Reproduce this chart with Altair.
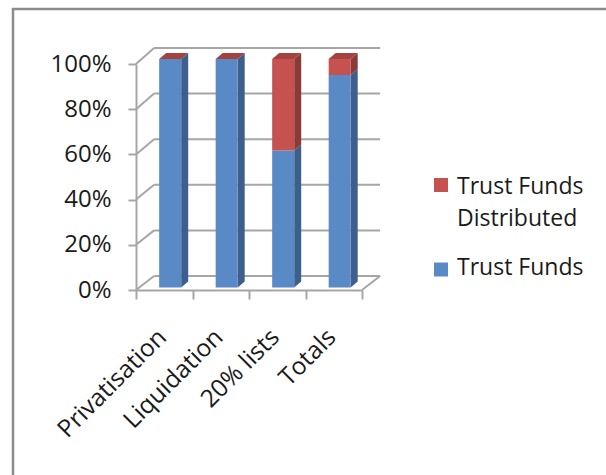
import altair as alt
import pandas as pd

# ---- data ----
categories = ["Privatisation", "Liquidation", "20% lists", "Totals"]
series_names = ["Trust Funds", "Trust Funds Distributed"]
trust_funds = [100, 100, 60, 93]
distributed = [0, 0, 40, 7]
y_ticks = [0, 0.2, 0.4, 0.6, 0.8, 1.0]
x_ticks = [0, 1, 2, 3, 4]

# ---- 3D look (data units) ----
BAR_L, BAR_R = 0.41, 0.80      # bar front face within each category
BAR_DX, BAR_DY = 0.124, 0.0265  # bar depth
BAR_BASE, BAR_SCALE = 0.011, 1.011
WALL_DX, WALL_DY, WALL_SCALE = 0.32, 0.062, 1.009

front_cols = ["#5A8AC6", "#C5524F"]
side_cols = ["#3E5F8B", "#8C3A38"]
top_cols = ["#7AA0D2", "#A4423F"]
grid_col = "#A6A6A6"
text_col = "#1A1A1A"
FONT = "Open Sans"

front_rows, side_rows, top_rows = [], [], []
for i, cat in enumerate(categories):
    vals = [trust_funds[i], distributed[i]]
    tot = sum(vals)
    cum = 0.0
    x0, x1 = i + BAR_L, i + BAR_R
    for s, v in enumerate(vals):
        share = v / tot
        y0 = BAR_BASE + cum * BAR_SCALE
        y1 = BAR_BASE + (cum + share) * BAR_SCALE
        cum += share
        seg = f"{i}-{s}"
        front_rows.append(dict(cat=cat, series=series_names[s], x0=x0, x1=x1, y0=y0, y1=y1))
        side_rows.append(dict(seg=seg, series=series_names[s], x=x1, lo=y0, hi=y1))
        side_rows.append(dict(seg=seg, series=series_names[s], x=x1 + BAR_DX, lo=y0 + BAR_DY, hi=y1 + BAR_DY))
        if s == len(vals) - 1:
            top = y1
            for xx, lo, hi in [(x0, top, top), (x0 + BAR_DX, top, top + BAR_DY),
                               (x1, top, top + BAR_DY), (x1 + BAR_DX, top + BAR_DY, top + BAR_DY)]:
                top_rows.append(dict(seg=seg, series=series_names[s], x=xx, lo=lo, hi=hi))

front_df = pd.DataFrame(front_rows)
side_df = pd.DataFrame(side_rows)
top_df = pd.DataFrame(top_rows)

grid_df = pd.DataFrame({"t": y_ticks})
grid_df["xa"] = 0.0
grid_df["xb"] = WALL_DX
grid_df["xc"] = x_ticks[-1] + WALL_DX
grid_df["tb"] = grid_df["t"] * WALL_SCALE + WALL_DY

floor_df = pd.DataFrame({"xa": [x_ticks[-1]], "ya": [0.0], "xb": [x_ticks[-1] + WALL_DX], "yb": [WALL_DY]})
cat_df = pd.DataFrame({"cat": categories, "xc": [i + 0.5 for i in range(len(categories))], "y": 0.0})

xscale = alt.Scale(domain=[0, 4], nice=False, zero=False)
yscale = alt.Scale(domain=[0, 1], nice=False, zero=False)

y_axis = alt.Axis(values=y_ticks, format=".0%", grid=False, title=None,
                  labelFont=FONT, labelFontSize=24, labelColor=text_col, labelPadding=17,
                  tickSize=8, tickWidth=2, tickColor=grid_col,
                  domainColor=grid_col, domainWidth=2)
x_axis = alt.Axis(values=x_ticks, labels=False, grid=False, title=None,
                  tickSize=9, tickWidth=2, tickColor=grid_col,
                  domainColor=grid_col, domainWidth=2)


def X(f):
    return alt.X(f, scale=xscale, axis=x_axis)


def Y(f):
    return alt.Y(f, scale=yscale, axis=y_axis)


# back wall gridlines
back = alt.Chart(grid_df).mark_rule(color=grid_col, strokeWidth=2).encode(
    x=X("xb:Q"), x2="xc:Q", y=Y("tb:Q"),
)
# left wall diagonals
diag = alt.Chart(grid_df).mark_rule(color=grid_col, strokeWidth=2).encode(
    x=X("xa:Q"), x2="xb:Q", y=Y("t:Q"), y2="tb:Q",
)
# floor right edge
floor = alt.Chart(floor_df).mark_rule(color=grid_col, strokeWidth=2).encode(
    x=X("xa:Q"), x2="xb:Q", y=Y("ya:Q"), y2="yb:Q",
)

side = alt.Chart(side_df).mark_area(interpolate="linear", opacity=1).encode(
    x=X("x:Q"), y=Y("lo:Q"), y2="hi:Q",
    detail="seg:N",
    color=alt.Color("series:N", scale=alt.Scale(domain=series_names, range=side_cols), legend=None),
)
topf = alt.Chart(top_df).mark_area(interpolate="linear", opacity=1).encode(
    x=X("x:Q"), y=Y("lo:Q"), y2="hi:Q",
    detail="seg:N",
    color=alt.Color("series:N", scale=alt.Scale(domain=series_names, range=top_cols), legend=None),
)
front = alt.Chart(front_df).mark_rect(opacity=1).encode(
    x=X("x0:Q"), x2="x1:Q", y=Y("y0:Q"), y2="y1:Q",
    color=alt.Color("series:N", scale=alt.Scale(domain=series_names, range=front_cols), legend=None),
)

# dx/dy act in the rotated text frame: screen offset of about (-1, +44)
cat_labels = alt.Chart(cat_df).mark_text(
    angle=315, align="right", baseline="middle", dx=-32, dy=30,
    font=FONT, fontSize=24.5, color=text_col,
).encode(
    x=X("xc:Q"), y=Y("y:Q"), text="cat:N",
)

# legend (manual, Excel style)
one = cat_df.head(1)
leg_sq1 = alt.Chart(one).mark_square(size=196, color=front_cols[1], opacity=1).encode(
    x=alt.value(305), y=alt.value(121))
leg_tx1 = alt.Chart(one).mark_text(
    text=["Trust Funds", "Distributed"], align="left", baseline="alphabetic", lineHeight=32,
    font=FONT, fontSize=23, color=text_col).encode(x=alt.value(321), y=alt.value(130))
leg_sq2 = alt.Chart(one).mark_square(size=196, color=front_cols[0], opacity=1).encode(
    x=alt.value(305), y=alt.value(205.5))
leg_tx2 = alt.Chart(one).mark_text(
    text=series_names[0], align="left", baseline="alphabetic",
    font=FONT, fontSize=23, color=text_col).encode(x=alt.value(321), y=alt.value(211))

frame = alt.Chart(one).mark_rect(fill="transparent", stroke="#8C8C8C", strokeWidth=2.5).encode(
    x=alt.value(-123), x2=alt.value(700), y=alt.value(-55), y2=alt.value(600))

chart = alt.layer(
    back, diag, floor, side, topf, front, cat_labels,
    leg_sq1, leg_tx1, leg_sq2, leg_tx2, frame,
).resolve_scale(color="independent").properties(
    width=226, height=226,
    autosize=alt.AutoSizeParams(type="none"),
    padding={"left": 136, "top": 64, "right": 244, "bottom": 185},
    background="white",
).configure_view(stroke=None)

chart.save("out.html", embed_options={"renderer": "svg", "actions": False})
